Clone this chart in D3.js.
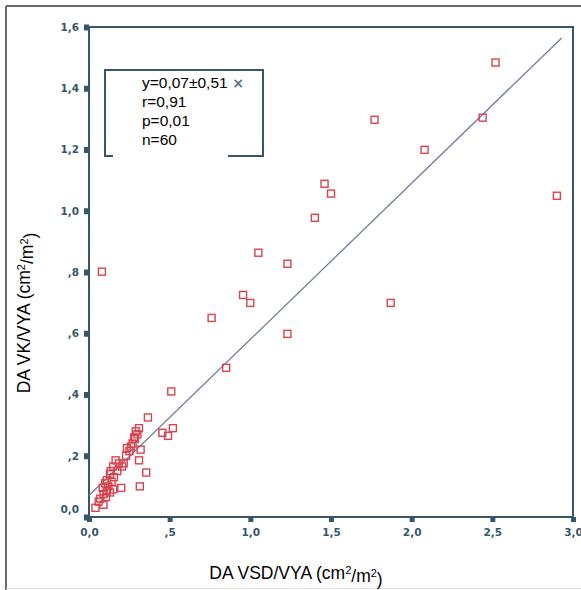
<!DOCTYPE html>
<html>
<head>
<meta charset="utf-8">
<script src="https://cdn.jsdelivr.net/npm/d3@7"></script>
<style>
  html, body { margin: 0; padding: 0; background: #fff; }
  svg { display: block; }
</style>
</head>
<body>
<svg id="chart" width="581" height="590"></svg>
<script>
// Patient measurements: DA VSD/VYA (x) versus DA VK/VYA (y), cm²/m²
const xValues = [
  2.52, 2.44, 1.77, 2.08, 2.90, 1.46, 1.50, 1.40, 1.05, 1.23, 0.08, 0.955, 1.00, 1.87, 0.76, 1.23, 0.85,
  0.04, 0.09, 0.07, 0.09, 0.11, 0.085, 0.12, 0.14, 0.11, 0.155, 0.13, 0.175, 0.15, 0.185, 0.165,
  0.20, 0.215, 0.23, 0.25, 0.26, 0.27, 0.285, 0.30, 0.28, 0.29, 0.31, 0.315, 0.31, 0.32, 0.355,
  0.365, 0.455, 0.49, 0.52, 0.51, 0.105, 0.13, 0.15, 0.10, 0.135, 0.205, 0.235, 0.06
];
const yValues = [
  1.484, 1.304, 1.297, 1.199, 1.049, 1.088, 1.056, 0.977, 0.863, 0.827, 0.801, 0.725, 0.699, 0.699, 0.650, 0.598, 0.487,
  0.03, 0.04, 0.06, 0.075, 0.085, 0.095, 0.10, 0.115, 0.12, 0.13, 0.14, 0.15, 0.165, 0.175, 0.185,
  0.095, 0.175, 0.20, 0.215, 0.23, 0.24, 0.255, 0.27, 0.26, 0.28, 0.29, 0.10, 0.185, 0.22, 0.145,
  0.325, 0.275, 0.265, 0.29, 0.41, 0.065, 0.08, 0.09, 0.11, 0.15, 0.165, 0.225, 0.05
];

// Regression fit shown in the legend: y = 0,07 + 0,51·x
const fitIntercept = 0.07;
const fitSlope = 0.51;
const fitRange = [0, 2.93];

const xTicks = [0, 0.5, 1.0, 1.5, 2.0, 2.5, 3.0];
const xTickLabels = ["0,0", ",5", "1,0", "1,5", "2,0", "2,5", "3,0"];
const yTicks = [0, 0.2, 0.4, 0.6, 0.8, 1.0, 1.2, 1.4, 1.6];
const yTickLabels = ["0,0", ",2", ",4", ",6", ",8", "1,0", "1,2", "1,4", "1,6"];

const legendLines = ["y=0,07±0,51", "r=0,91", "p=0,01", "n=60"];

const svg = d3.select("#chart");
const axisColor = "#37566a";
const pointColor = "#d9434e";

const plot = { left: 89, right: 573, top: 27, bottom: 517 };
const x = d3.scaleLinear().domain([0, 3]).range([plot.left, plot.right]);
const y = d3.scaleLinear().domain([0, 1.6]).range([plot.bottom, plot.top]);

// outer page frame
svg.append("line").attr("x1", 6).attr("x2", 6).attr("y1", 6).attr("y2", 590)
  .attr("stroke", "#6a6a6a").attr("stroke-width", 2);
svg.append("line").attr("x1", 6).attr("x2", 581).attr("y1", 6).attr("y2", 6)
  .attr("stroke", "#6a6a6a").attr("stroke-width", 2);
svg.append("line").attr("x1", 6).attr("x2", 581).attr("y1", 588.5).attr("y2", 588.5)
  .attr("stroke", "#e4e4e4").attr("stroke-width", 1);

// axes built with d3 generators, then styled to the chunky tick look
const xAxis = d3.axisBottom(x).tickValues(xTicks).tickSize(0).tickPadding(12)
  .tickFormat((d, i) => xTickLabels[i]);
const yAxis = d3.axisLeft(y).tickValues(yTicks).tickSize(0).tickPadding(10)
  .tickFormat((d, i) => yTickLabels[i]);

const gx = svg.append("g").attr("transform", `translate(0,${plot.bottom})`).call(xAxis);
const gy = svg.append("g").attr("transform", `translate(${plot.left},0)`).call(yAxis);
[gx, gy].forEach(g => {
  g.select(".domain").remove();
  g.selectAll("text")
    .attr("fill", axisColor)
    .style("font-family", "'DejaVu Sans', sans-serif")
    .style("font-weight", "bold")
    .style("font-size", "10.5px");
});
gy.selectAll(".tick").filter(d => d === 0).select("text").attr("dy", "-0.45em");

// square tick marks
gx.selectAll(".tick").append("rect")
  .attr("x", -2.5).attr("y", 0).attr("width", 5).attr("height", 5)
  .attr("fill", axisColor);
gy.selectAll(".tick").append("rect")
  .attr("x", -5).attr("y", -3).attr("width", 5).attr("height", 6)
  .attr("fill", axisColor);

// plot frame
svg.append("rect")
  .attr("x", plot.left).attr("y", plot.top)
  .attr("width", plot.right - plot.left).attr("height", plot.bottom - plot.top)
  .attr("fill", "none").attr("stroke", axisColor).attr("stroke-width", 2);

// legend box
svg.append("rect")
  .attr("x", 105).attr("y", 70).attr("width", 158).attr("height", 86)
  .attr("fill", "#fff").attr("stroke", axisColor).attr("stroke-width", 2);
svg.append("rect")
  .attr("x", 113).attr("y", 72).attr("width", 115).attr("height", 86)
  .attr("fill", "#fff");
const legend = svg.append("g")
  .style("font-family", "'Liberation Sans', Arial, sans-serif")
  .style("font-size", "15.5px");
legend.selectAll("text").data(legendLines).join("text")
  .attr("x", 142).attr("y", (d, i) => 88 + i * 19)
  .text(d => d);
svg.append("text").attr("x", 238).attr("y", 88).attr("text-anchor", "middle")
  .attr("fill", "#5d7384")
  .style("font-family", "'DejaVu Sans', sans-serif")
  .style("font-size", "14px").style("font-weight", "bold")
  .text("×");

// regression line
svg.append("line")
  .attr("x1", x(fitRange[0])).attr("y1", y(fitIntercept + fitSlope * fitRange[0]))
  .attr("x2", x(fitRange[1])).attr("y2", y(fitIntercept + fitSlope * fitRange[1]))
  .attr("stroke", "#6f7f98").attr("stroke-width", 1.3);

// data points: hollow squares
const pts = xValues.map((v, i) => ({ x: v, y: yValues[i] }));
svg.append("g").selectAll("rect").data(pts).join("rect")
  .attr("x", d => x(d.x) - 3.5).attr("y", d => y(d.y) - 3.5)
  .attr("width", 7).attr("height", 7)
  .attr("fill", "none").attr("stroke", pointColor).attr("stroke-width", 1.4);

// axis titles
function addTitle(sel, main) {
  sel.append("tspan").text(main + " (cm");
  sel.append("tspan").attr("dy", "-0.45em").style("font-size", "11px").text("2");
  sel.append("tspan").attr("dy", "0.45em").text("/m");
  sel.append("tspan").attr("dy", "-0.45em").style("font-size", "11px").text("2");
  sel.append("tspan").attr("dy", "0.45em").text(")");
}
const titleFont = sel => sel
  .style("font-family", "'Liberation Sans', Arial, sans-serif")
  .style("font-size", "17.5px");

svg.append("text")
  .attr("x", 296).attr("y", 579).attr("text-anchor", "middle")
  .call(titleFont).call(addTitle, "DA VSD/VYA");

svg.append("text")
  .attr("transform", "translate(30,313) rotate(-90)").attr("text-anchor", "middle")
  .call(titleFont).call(addTitle, "DA VK/VYA");
</script>
</body>
</html>
